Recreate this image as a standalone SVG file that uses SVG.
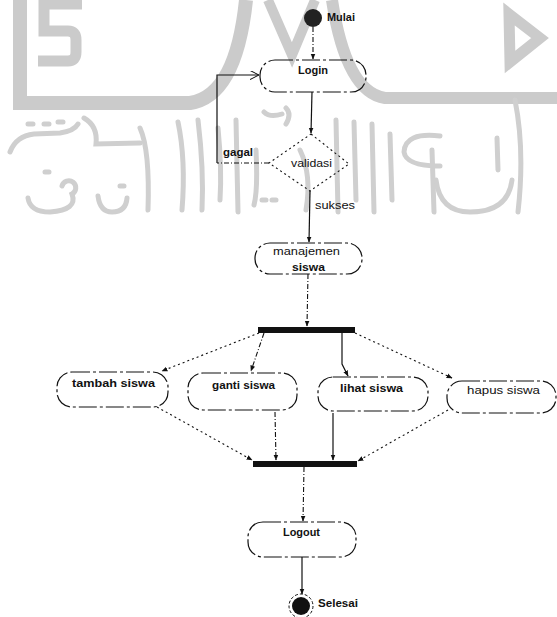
<svg xmlns="http://www.w3.org/2000/svg" width="557" height="617" viewBox="0 0 557 617">
<style>
  .wm{fill:none;stroke:#cbcbcb;stroke-linecap:butt;stroke-linejoin:miter}
  .wmc{fill:none;stroke:#cfcfcf;stroke-width:5;stroke-linecap:round}
  .node{fill:none;stroke:#111;stroke-width:1.2;stroke-dasharray:18 3 3 3}
  .dia{fill:none;stroke:#111;stroke-width:1.1;stroke-dasharray:2 3}
  .bar{fill:#111}
  .t{font-family:"Liberation Sans",Arial,sans-serif;font-size:10px;fill:#111}
  .b{font-weight:bold}
  .c{fill:none;stroke:#111;stroke-width:1.2}
  .cd{fill:none;stroke:#111;stroke-width:1.1;stroke-dasharray:5 2 1 2}
  .co{fill:none;stroke:#111;stroke-width:1.1;stroke-dasharray:2 3}
</style>
<defs>
  <marker id="ah" viewBox="0 0 10 10" refX="9" refY="5" markerWidth="6" markerHeight="6" orient="auto" markerUnits="userSpaceOnUse">
    <path d="M0,1 L10,5 L0,9 z" fill="#111"/>
  </marker>
  <marker id="ao" viewBox="0 0 10 10" refX="10" refY="5" markerWidth="9" markerHeight="9" orient="auto" markerUnits="userSpaceOnUse">
    <path d="M0,0 L10,5 L0,10" fill="none" stroke="#111" stroke-width="1.2"/>
  </marker>
</defs>
<rect width="557" height="617" fill="#fff"/>
<g id="watermark">
  <path class="wm" stroke-width="14" d="M20,0 L20,103 L190,103 Q236,96 246,0"/>
  <path class="wm" stroke-width="12" d="M332,0 Q346,92 385,98 L557,98"/>
  <path class="wm" stroke-width="10" d="M268,0 L292,55 L315,0"/>
  <path class="wm" stroke-width="11" d="M82,4 L44,4 L44,31 L68,31 Q76,31 76,40 L76,52 Q76,61 68,61 L38,61"/>
  <path class="wm" stroke-width="11" d="M509,14 L540,38 L510,62 Z"/>
  <path class="wmc" d="M10,152 Q16,136 34,134 L60,133 Q74,131 78,124"/>
  <path class="wmc" d="M84,118 Q98,126 96,144 L140,143"/>
  <path class="wmc" d="M140,128 Q150,150 148,210"/>
  <path class="wmc" d="M28,124 h5 M44,124 h5 M58,122 h5 M45,172 h4 M120,186 h4 M262,200 h4 M272,200 h4"/>
  <path class="wmc" d="M62,186 a7,7 0 1 1 10,8 Q78,210 50,212 Q30,212 28,198"/>
  <path class="wmc" d="M98,196 Q100,212 112,212 Q126,212 127,198"/>
  <path class="wmc" d="M178,122 Q186,160 182,210 M198,120 Q204,170 202,210 M218,128 Q222,170 220,200 M236,120 L238,212"/>
  <path class="wmc" d="M256,150 Q258,190 254,205 M264,112 Q270,118 282,114 M286,108 Q292,114 286,124"/>
  <path class="wmc" d="M300,150 Q312,175 306,210 M336,120 L338,212 M354,122 L356,200 M372,124 L374,212 M390,134 L392,200"/>
  <path class="wmc" d="M440,136 Q405,132 404,152 Q406,166 440,166 M432,150 L434,212"/>
  <path class="wmc" d="M436,180 Q440,212 470,212 Q508,212 512,180 M497,138 L498,170 M515,100 Q525,150 518,212"/>
</g>
<g id="connectors">
  <path class="cd" d="M313,27 L313,59" marker-end="url(#ah)"/>
  <path class="c" d="M312,92 L311,133" marker-end="url(#ah)"/>
  <path class="cd" d="M269,163 L217,163"/>
  <path class="c" d="M217,163 L217,75 L259,75" marker-end="url(#ao)"/>
  <path class="c" d="M310,191 L309,242" marker-end="url(#ah)"/>
  <path class="cd" d="M308,274 L307,326" marker-end="url(#ah)"/>
  <path class="co" d="M259,333 L162,371" marker-end="url(#ah)"/>
  <path class="cd" d="M264,333 L251,371" marker-end="url(#ah)"/>
  <path class="c" d="M342,333 L342,364 L348,376" marker-end="url(#ah)"/>
  <path class="co" d="M355,333 L452,378" marker-end="url(#ah)"/>
  <path class="co" d="M157,407 L252,460" marker-end="url(#ah)"/>
  <path class="cd" d="M275,412 L276,460" marker-end="url(#ah)"/>
  <path class="c" d="M333,413 L333,460" marker-end="url(#ah)"/>
  <path class="co" d="M448,410 L358,461" marker-end="url(#ah)"/>
  <path class="cd" d="M304,467 L303,521" marker-end="url(#ah)"/>
  <path class="c" d="M302,557 L302,594" marker-end="url(#ah)"/>
</g>
<g id="start">
  <circle cx="313" cy="18" r="9" fill="#222"/>
  <text class="t b" x="327" y="21" font-size="9" textLength="28" lengthAdjust="spacingAndGlyphs">Mulai</text>
</g>
<g id="login">
  <rect class="node" x="260" y="60" width="106" height="32" rx="15"/>
  <text class="t b" x="298" y="74" textLength="30" lengthAdjust="spacingAndGlyphs">Login</text>
</g>
<g id="validasi">
  <path class="dia" d="M311,134 L349,164 L310,191 L269,163 Z"/>
  <text class="t" x="291" y="167" textLength="41" lengthAdjust="spacingAndGlyphs">validasi</text>
</g>
<g id="labels">
  <text class="t b" x="223" y="156" textLength="30" lengthAdjust="spacingAndGlyphs">gagal</text>
  <text class="t" x="315" y="209" textLength="40" lengthAdjust="spacingAndGlyphs">sukses</text>
</g>
<g id="manajemen">
  <rect class="node" x="255" y="243" width="107" height="31" rx="15"/>
  <text class="t" x="273" y="255" textLength="67" lengthAdjust="spacingAndGlyphs">manajemen</text>
  <text class="t b" x="292" y="271" textLength="33" lengthAdjust="spacingAndGlyphs">siswa</text>
</g>
<g id="fork">
  <rect class="bar" x="258" y="327" width="97" height="6"/>
</g>
<g id="tambah">
  <rect class="node" x="57" y="372" width="111" height="35" rx="15"/>
  <text class="t b" x="72" y="387" textLength="83" lengthAdjust="spacingAndGlyphs">tambah siswa</text>
</g>
<g id="ganti">
  <rect class="node" x="188" y="373" width="109" height="37" rx="15"/>
  <text class="t b" x="212" y="389" textLength="63" lengthAdjust="spacingAndGlyphs">ganti siswa</text>
</g>
<g id="lihat">
  <rect class="node" x="318" y="377" width="110" height="34" rx="15"/>
  <text class="t b" x="340" y="392" textLength="63" lengthAdjust="spacingAndGlyphs">lihat siswa</text>
</g>
<g id="hapus">
  <rect class="node" x="447" y="381" width="109" height="32" rx="15"/>
  <text class="t" x="467" y="394" textLength="73" lengthAdjust="spacingAndGlyphs">hapus siswa</text>
</g>
<g id="join">
  <rect class="bar" x="253" y="461" width="104" height="6"/>
</g>
<g id="logout">
  <rect class="node" x="248" y="522" width="108" height="35" rx="15"/>
  <text class="t b" x="283" y="536" textLength="37" lengthAdjust="spacingAndGlyphs">Logout</text>
</g>
<g id="end">
  <circle cx="301" cy="606" r="12" fill="none" stroke="#111" stroke-width="1" stroke-dasharray="3 2"/>
  <circle cx="301" cy="606" r="9" fill="#111"/>
  <text class="t b" x="318" y="607" textLength="40" lengthAdjust="spacingAndGlyphs">Selesai</text>
</g>
</svg>
